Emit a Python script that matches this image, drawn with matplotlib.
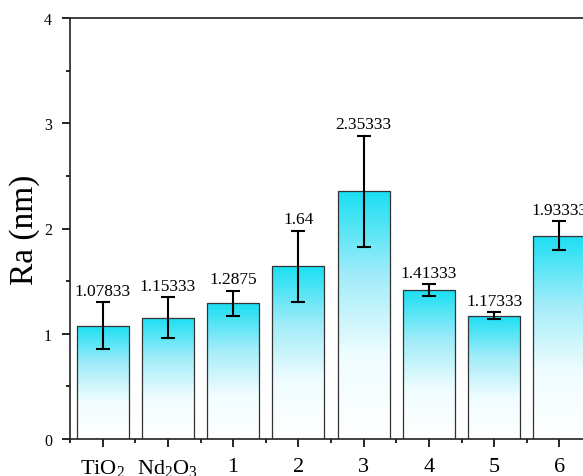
import numpy as np
import matplotlib
matplotlib.use("Agg")
import matplotlib.pyplot as plt
from matplotlib.colors import LinearSegmentedColormap
from matplotlib.ticker import MultipleLocator

plt.rcParams['font.family'] = ['Liberation Serif', 'DejaVu Serif']
plt.rcParams['mathtext.fontset'] = 'custom'
plt.rcParams['mathtext.rm'] = 'Liberation Serif'
plt.rcParams['mathtext.it'] = 'Liberation Serif:italic'

categories = [r'TiO$_2$', r'Nd$_2$O$_3$', '1', '2', '3', '4', '5', '6']
values = [1.07833, 1.15333, 1.2875, 1.64, 2.35333, 1.41333, 1.17333, 1.93333]
errors = [0.226, 0.195, 0.123, 0.34, 0.53, 0.058, 0.033, 0.135]
value_labels = ['1.07833', '1.15333', '1.2875', '1.64', '2.35333', '1.41333', '1.17333', '1.93333']

fig = plt.figure(figsize=(5.83, 4.77), dpi=100)
ax = fig.add_axes([70/583, 1-440/477, (592-70)/583, (440-19)/477])

x = np.arange(len(categories))
bars = ax.bar(x, values, width=0.8, color='none', edgecolor='#333333', linewidth=0.9, zorder=3)

cmap = LinearSegmentedColormap.from_list('cy', ['#ffffff', '#f0fdff', '#a0ecf9', '#1adff3'])
grad = np.linspace(0, 1, 256).reshape(-1, 1)
for b in bars:
    x0, y0 = b.get_x(), b.get_y()
    w, h = b.get_width(), b.get_height()
    im = ax.imshow(grad, extent=[x0, x0 + w, y0, y0 + h], origin='lower',
                   cmap=cmap, aspect='auto', zorder=2)
    im.set_clip_path(b)

ax.errorbar(x, values, yerr=errors, fmt='none', ecolor='black', elinewidth=1.5,
            capsize=5, capthick=1.5, zorder=4)

for xi, v, e, lab in zip(x, values, errors, value_labels):
    ax.text(xi, v + e + 0.03, lab, ha='center', va='bottom', fontsize=12.5, zorder=5)

ax.set_xlim(-0.5, 7.5)
ax.set_ylim(0, 4)
ax.set_xticks(x)
ax.set_xticklabels(categories)
ax.xaxis.set_minor_locator(MultipleLocator(1, offset=0.5))
ax.yaxis.set_major_locator(MultipleLocator(1))
ax.yaxis.set_minor_locator(MultipleLocator(0.5))
ax.tick_params(axis='both', which='major', direction='out', length=6, width=1.2, labelsize=11.5)
ax.tick_params(axis='y', which='major', pad=7)
ax.tick_params(axis='x', which='major', labelsize=16, pad=7)
ax.tick_params(axis='both', which='minor', direction='out', length=3, width=1.2)
ax.set_ylabel('Ra (nm)', fontsize=24, labelpad=3)
for sp in ax.spines.values():
    sp.set_linewidth(1.2)
    sp.set_color('#222222')

fig.savefig('out.png', dpi=100)
